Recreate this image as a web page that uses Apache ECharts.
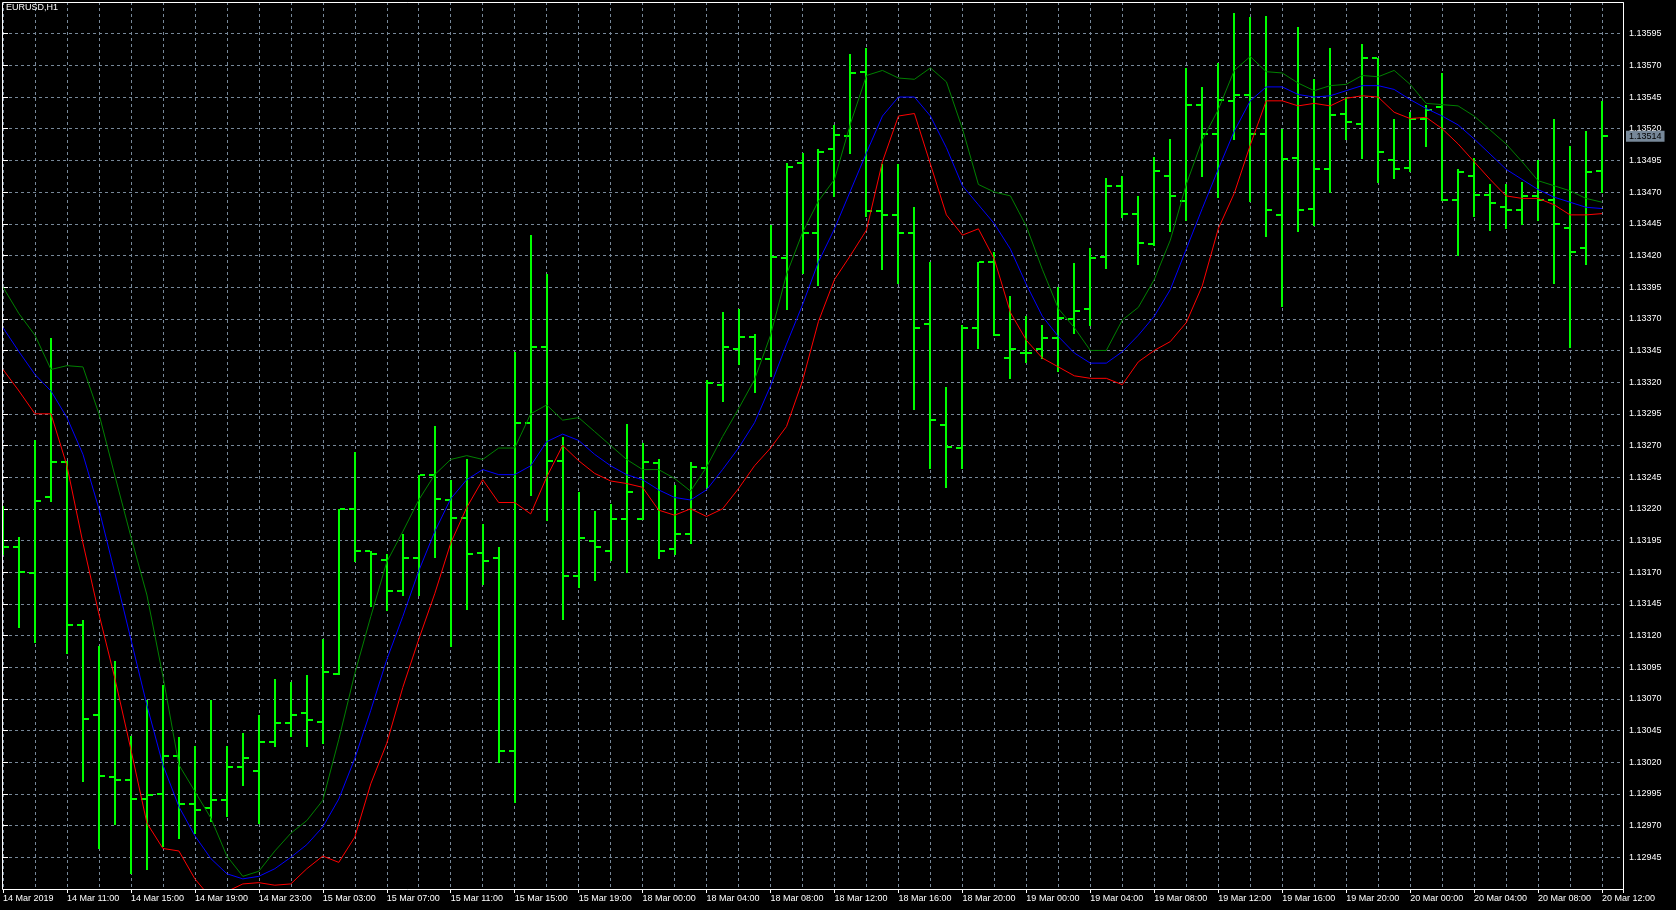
<!DOCTYPE html>
<html>
<head>
<meta charset="utf-8">
<script src="https://cdn.jsdelivr.net/npm/echarts@6/dist/echarts.min.js"></script>
<style>
html,body{margin:0;padding:0;background:#000;}
#chart{width:1676px;height:910px;}
</style>
</head>
<body>
<div id="chart"></div>
<script>
// ---- data (EURUSD H1, bar index 0 = 14 Mar 2019 07:00) ----
const symbolTitle = 'EURUSD,H1';
const xTickLabels = ['14 Mar 2019','14 Mar 11:00','14 Mar 15:00','14 Mar 19:00','14 Mar 23:00','15 Mar 03:00','15 Mar 07:00','15 Mar 11:00','15 Mar 15:00','15 Mar 19:00','18 Mar 00:00','18 Mar 04:00','18 Mar 08:00','18 Mar 12:00','18 Mar 16:00','18 Mar 20:00','19 Mar 00:00','19 Mar 04:00','19 Mar 08:00','19 Mar 12:00','19 Mar 16:00','19 Mar 20:00','20 Mar 00:00','20 Mar 04:00','20 Mar 08:00','20 Mar 12:00'];

const opens = [1.13205,1.13190,1.13169,1.13229,1.13257,1.13128,1.13057,1.13008,1.13006,1.12991,
1.12995,1.13025,1.12987,1.12984,1.12990,1.13016,1.13013,1.13036,1.13051,1.13059,
1.13052,1.13090,1.13220,1.13187,1.13180,1.13155,1.13181,1.13247,1.13227,1.13213,
1.13185,1.13181,1.13029,1.13288,1.13348,1.13258,1.13167,1.13195,1.13187,1.13212,
1.13212,1.13256,1.13188,1.13200,1.13252,1.13318,1.13346,1.13356,1.13338,1.13418,
1.13493,1.13438,1.13504,1.13514,1.13565,1.13455,1.13452,1.13438,1.13366,1.13286,
1.13268,1.13363,1.13415,1.13339,1.13343,1.13346,1.13355,1.13370,1.13378,1.13419,
1.13475,1.13453,1.13429,1.13483,1.13463,1.13539,1.13516,1.13542,1.13547,1.13516,
1.13452,1.13497,1.13457,1.13488,1.13532,1.13524,1.13576,1.13495,1.13489,1.13528,
1.13537,1.13464,1.13483,1.13468,1.13458,1.13456,1.13467,1.13464,1.13442,1.13426,
1.13487];
const highs = [1.13222,1.13198,1.13274,1.13355,1.13258,1.13132,1.13112,1.13100,1.13041,1.13069,
1.13081,1.13040,1.13033,1.13069,1.13033,1.13043,1.13057,1.13086,1.13083,1.13089,
1.13117,1.13220,1.13265,1.13187,1.13184,1.13200,1.13247,1.13285,1.13243,1.13259,
1.13208,1.13190,1.13344,1.13436,1.13405,1.13277,1.13233,1.13218,1.13224,1.13287,
1.13272,1.13259,1.13239,1.13257,1.13322,1.13375,1.13378,1.13358,1.13444,1.13493,
1.13501,1.13504,1.13523,1.13579,1.13584,1.13492,1.13492,1.13458,1.13415,1.13316,
1.13365,1.13415,1.13423,1.13388,1.13372,1.13365,1.13395,1.13414,1.13426,1.13481,
1.13483,1.13467,1.13498,1.13512,1.13568,1.13553,1.13572,1.13611,1.13608,1.13609,
1.13520,1.13600,1.13559,1.13584,1.13545,1.13587,1.13576,1.13528,1.13533,1.13539,
1.13564,1.13488,1.13497,1.13476,1.13476,1.13478,1.13495,1.13528,1.13506,1.13518,
1.13542];
const lows = [1.13184,1.13127,1.13115,1.13226,1.13106,1.13005,1.12952,1.12971,1.12933,1.12936,
1.12954,1.12960,1.12964,1.12974,1.12978,1.13002,1.12972,1.13033,1.13041,1.13033,
1.13035,1.13090,1.13179,1.13143,1.13140,1.13152,1.13152,1.13182,1.13112,1.13141,
1.13161,1.13020,1.12989,1.13231,1.13211,1.13133,1.13158,1.13164,1.13180,1.13170,
1.13212,1.13181,1.13184,1.13193,1.13237,1.13305,1.13334,1.13312,1.13325,1.13378,
1.13406,1.13397,1.13467,1.13501,1.13451,1.13409,1.13398,1.13299,1.13252,1.13237,
1.13252,1.13347,1.13357,1.13323,1.13336,1.13339,1.13329,1.13359,1.13365,1.13410,
1.13450,1.13413,1.13428,1.13439,1.13448,1.13483,1.13466,1.13512,1.13463,1.13435,
1.13380,1.13439,1.13444,1.13470,1.13512,1.13497,1.13478,1.13481,1.13487,1.13506,
1.13464,1.13420,1.13451,1.13440,1.13442,1.13445,1.13448,1.13398,1.13348,1.13413,
1.13470];
const closes = [1.13190,1.13170,1.13226,1.13257,1.13128,1.13054,1.13009,1.13006,1.12991,1.12994,
1.13025,1.12987,1.12982,1.12990,1.13016,1.13023,1.13036,1.13051,1.13057,1.13053,
1.13091,1.13220,1.13187,1.13184,1.13155,1.13181,1.13247,1.13228,1.13213,1.13184,
1.13179,1.13029,1.13288,1.13348,1.13258,1.13167,1.13197,1.13190,1.13212,1.13233,
1.13257,1.13187,1.13200,1.13253,1.13319,1.13348,1.13356,1.13338,1.13419,1.13490,
1.13438,1.13502,1.13515,1.13564,1.13455,1.13452,1.13438,1.13363,1.13290,1.13269,
1.13363,1.13415,1.13357,1.13346,1.13343,1.13355,1.13371,1.13376,1.13418,1.13475,
1.13453,1.13430,1.13487,1.13467,1.13539,1.13516,1.13543,1.13547,1.13516,1.13456,
1.13496,1.13456,1.13488,1.13531,1.13525,1.13576,1.13502,1.13488,1.13528,1.13535,
1.13464,1.13486,1.13468,1.13461,1.13456,1.13467,1.13464,1.13445,1.13423,1.13486,
1.13514];

const maGreen = [1.13395,1.13374,1.13357,1.13330,1.13333,1.13332,1.13295,1.13246,1.13198,1.13152,
1.13088,1.13018,1.12997,1.12976,1.12946,1.12930,1.12934,1.12950,1.12964,1.12974,
1.12990,1.13038,1.13090,1.13135,1.13178,1.13202,1.13227,1.13247,1.13259,1.13262,
1.13259,1.13268,1.13268,1.13295,1.13302,1.13290,1.13292,1.13281,1.13270,1.13259,
1.13251,1.13251,1.13244,1.13234,1.13253,1.13277,1.13299,1.13322,1.13357,1.13405,
1.13438,1.13463,1.13480,1.13524,1.13562,1.13566,1.13560,1.13559,1.13568,1.13557,
1.13520,1.13476,1.13470,1.13467,1.13443,1.13409,1.13378,1.13363,1.13345,1.13345,
1.13369,1.13379,1.13401,1.13432,1.13476,1.13511,1.13535,1.13566,1.13577,1.13565,
1.13564,1.13556,1.13550,1.13554,1.13555,1.13562,1.13561,1.13566,1.13555,1.13540,
1.13539,1.13538,1.13530,1.13519,1.13508,1.13494,1.13479,1.13475,1.13471,1.13465,
1.13462];
const maBlue = [1.13363,1.13344,1.13326,1.13313,1.13292,1.13263,1.13220,1.13169,1.13117,1.13065,
1.13018,1.12985,1.12962,1.12944,1.12932,1.12928,1.12930,1.12936,1.12945,1.12955,
1.12969,1.12991,1.13023,1.13061,1.13101,1.13135,1.13171,1.13202,1.13228,1.13243,
1.13251,1.13247,1.13247,1.13254,1.13273,1.13279,1.13274,1.13263,1.13254,1.13247,
1.13243,1.13235,1.13229,1.13227,1.13235,1.13251,1.13268,1.13288,1.13317,1.13350,
1.13381,1.13415,1.13441,1.13471,1.13501,1.13530,1.13545,1.13545,1.13530,1.13505,
1.13475,1.13460,1.13445,1.13425,1.13397,1.13372,1.13356,1.13343,1.13335,1.13335,
1.13344,1.13357,1.13372,1.13393,1.13425,1.13457,1.13488,1.13518,1.13542,1.13553,
1.13553,1.13547,1.13545,1.13546,1.13550,1.13554,1.13554,1.13551,1.13543,1.13536,
1.13530,1.13523,1.13512,1.13500,1.13488,1.13480,1.13472,1.13466,1.13462,1.13458,
1.13457];
const maRed = [1.13330,1.13313,1.13295,1.13295,1.13254,1.13193,1.13137,1.13086,1.13030,1.12972,
1.12952,1.12950,1.12928,1.12913,1.12918,1.12924,1.12925,1.12923,1.12924,1.12936,
1.12946,1.12941,1.12961,1.13003,1.13035,1.13079,1.13117,1.13153,1.13193,1.13221,
1.13243,1.13225,1.13225,1.13216,1.13245,1.13270,1.13258,1.13248,1.13242,1.13240,
1.13237,1.13219,1.13215,1.13220,1.13214,1.13220,1.13236,1.13254,1.13268,1.13285,
1.13321,1.13368,1.13401,1.13420,1.13440,1.13494,1.13530,1.13532,1.13492,1.13452,
1.13436,1.13441,1.13417,1.13375,1.13353,1.13339,1.13332,1.13325,1.13323,1.13323,
1.13318,1.13336,1.13345,1.13352,1.13367,1.13396,1.13441,1.13469,1.13507,1.13542,
1.13542,1.13538,1.13540,1.13538,1.13544,1.13546,1.13545,1.13533,1.13528,1.13529,
1.13520,1.13508,1.13494,1.13480,1.13467,1.13465,1.13465,1.13460,1.13452,1.13452,
1.13453];

const yMin = 1.12920, yMax = 1.13620, yStep = 0.00025;
const xMin = 0, xMax = 101.3125, xLabelEvery = 4;
const lastPrice = closes[closes.length - 1];

// ---- build ----
const ohlc = opens.map((o, i) => [i, o, highs[i], lows[i], closes[i]]);
const toLine = arr => arr.map((v, i) => [i, v]);
const FONT = 'Liberation Sans';
const GRIDC = '#778899';
const BARC = '#00ff00';

const chart = echarts.init(document.getElementById('chart'), null, {renderer: 'canvas'});
chart.setOption({
  backgroundColor: '#000000',
  animation: false,
  title: {
    text: symbolTitle, left: 6, top: 3, padding: 0,
    textStyle: {color: '#ffffff', fontSize: 9, fontWeight: 'normal', fontFamily: FONT}
  },
  grid: {left: 2, right: 53, top: 2, bottom: 21, show: false},
  xAxis: [{
    type: 'value', min: xMin, max: xMax, interval: 2,
    axisLine: {show: false},
    axisTick: {show: false},
    axisLabel: {
      color: '#ffffff', fontSize: 9, fontFamily: FONT, align: 'left', margin: 5,
      showMinLabel: true, showMaxLabel: true,
      formatter: v => {
        const k = Math.round(v);
        if (Math.abs(v - k) > 1e-6 || k % xLabelEvery !== 0) return '';
        return xTickLabels[k / xLabelEvery] || '';
      }
    },
    splitLine: {show: true, lineStyle: {color: GRIDC, width: 1, type: [3, 3]}}
  }, {
    type: 'value', min: xMin, max: xMax, interval: xLabelEvery, position: 'bottom',
    axisLine: {show: false},
    axisTick: {show: true, length: 4, lineStyle: {color: '#ffffff', width: 1}},
    axisLabel: {show: false},
    splitLine: {show: false}
  }],
  yAxis: [{
    type: 'value', position: 'right', min: yMin, max: yMax, interval: yStep, scale: true,
    axisLine: {show: false},
    axisTick: {show: true, length: 5, lineStyle: {color: '#ffffff', width: 1}},
    axisLabel: {
      color: '#ffffff', fontSize: 9, fontFamily: FONT, align: 'left', margin: 6,
      formatter: v => (v < yMin + yStep / 2 || v > yMax - yStep / 2) ? '' : v.toFixed(5)
    },
    splitLine: {show: true, lineStyle: {color: GRIDC, width: 1, type: [3, 3]}}
  }, {
    type: 'value', position: 'right', min: yMin, max: yMax, scale: true,
    axisLine: {show: false},
    axisTick: {show: false},
    splitLine: {show: false},
    axisLabel: {
      customValues: [lastPrice],
      color: '#000000', fontSize: 9, fontFamily: FONT, align: 'left', margin: 3,
      backgroundColor: GRIDC, padding: [1, 3, 0, 3], lineHeight: 10,
      formatter: v => v.toFixed(5)
    }
  }],
  series: [{
    type: 'custom',
    name: 'bars',
    clip: true,
    z: 2,
    encode: {x: 0, y: [1, 2, 3, 4]},
    data: ohlc,
    renderItem: function (params, api) {
      const i = api.value(0);
      const pO = api.coord([i, api.value(1)]);
      const yH = api.coord([i, api.value(2)])[1];
      const yL = api.coord([i, api.value(3)])[1];
      const yC = api.coord([i, api.value(4)])[1];
      const cx = Math.round(pO[0]);
      const style = {fill: BARC};
      const top = Math.round(yH), bot = Math.round(yL);
      return {
        type: 'group',
        children: [
          {type: 'rect', shape: {x: cx - 1, y: top, width: 2, height: Math.max(2, bot - top + 1)}, style: style},
          {type: 'rect', shape: {x: cx - 6, y: Math.round(pO[1]) - 1, width: 5, height: 2}, style: style},
          {type: 'rect', shape: {x: cx + 1, y: Math.round(yC) - 1, width: 5, height: 2}, style: style}
        ]
      };
    }
  }, {
    type: 'line', name: 'MA green', data: toLine(maGreen), showSymbol: false, symbol: 'none', z: 3,
    lineStyle: {color: '#008000', width: 1}, clip: true
  }, {
    type: 'line', name: 'MA blue', data: toLine(maBlue), showSymbol: false, symbol: 'none', z: 3,
    lineStyle: {color: '#0000ff', width: 1}, clip: true,
    markLine: {
      silent: true, symbol: ['none', 'none'], animation: false,
      label: {show: false},
      lineStyle: {color: GRIDC, type: 'solid', width: 1},
      data: [{yAxis: lastPrice}]
    }
  }, {
    type: 'line', name: 'MA red', data: toLine(maRed), showSymbol: false, symbol: 'none', z: 3,
    lineStyle: {color: '#ff0000', width: 1}, clip: true
  }],
  graphic: [{
    type: 'rect', silent: true, z: 100,
    shape: {x: 2.5, y: 2.5, width: 1621, height: 887},
    style: {fill: 'none', stroke: '#ffffff', lineWidth: 1}
  }]
});
</script>
</body>
</html>
